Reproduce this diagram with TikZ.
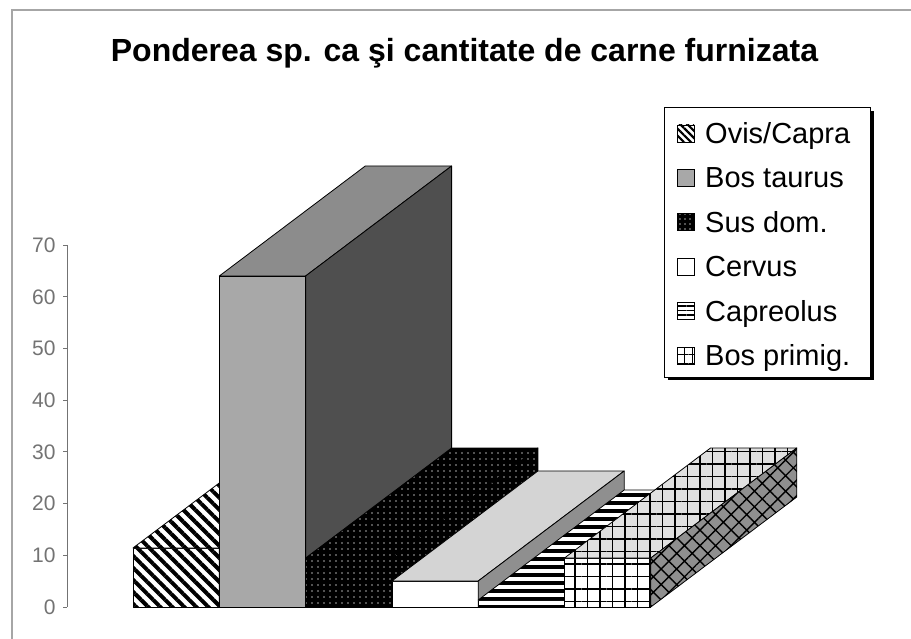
\documentclass[tikz,border=0pt]{standalone}
\usepackage{fontspec}
\setmainfont{Liberation Sans}
\usepackage{tikz}
\usetikzlibrary{patterns.meta}

\definecolor{bosfront}{gray}{0.66}
\definecolor{bostop}{gray}{0.55}
\definecolor{bosside}{gray}{0.31}
\definecolor{cervtop}{gray}{0.83}
\definecolor{midside}{gray}{0.56}
\definecolor{primtop}{gray}{0.88}
\definecolor{axisgray}{gray}{0.45}

\tikzset{
  face/.style={draw=black, line width=0.8pt, line join=round},
  ovisface/.style={face, preaction={fill=white}, pattern={Lines[angle=-45,distance=8.5pt,line width=4pt]}},
  bosfront/.style={face, fill=bosfront},
  bostop/.style={face, fill=bostop},
  bosside/.style={face, fill=bosside},
  susface/.style={face, preaction={fill=black}, pattern={Dots[distance=6pt,radius=0.8pt]}, pattern color=gray!70},
  cervfront/.style={face, fill=white},
  cervtop/.style={face, fill=cervtop},
  cervside/.style={face, fill=midside},
  caprface/.style={face, preaction={fill=white}, pattern={Lines[angle=0,distance=8pt,line width=3.5pt]}},
  primfront/.style={face, preaction={fill=white}, pattern={Hatch[angle=0,distance=12.5pt,line width=1.4pt]}},
  primtop/.style={face, preaction={fill=primtop}, pattern={Hatch[angle=0,distance=12.5pt,line width=1.4pt]}},
  primside/.style={face, preaction={fill=midside}, pattern={Hatch[angle=45,distance=11pt,line width=1.4pt]}},
  % legend keys
  legmark/.style={draw=black, line width=0.6pt, minimum size=17pt, inner sep=0pt},
  ovismark/.style={legmark, preaction={fill=white}, pattern={Lines[angle=-45,distance=5pt,line width=2.2pt]}},
  bosmark/.style={legmark, fill=bosfront},
  susmark/.style={legmark, preaction={fill=black}, pattern={Dots[distance=5pt,radius=0.8pt]}, pattern color=gray!70},
  cervmark/.style={legmark, fill=white},
  caprmark/.style={legmark, preaction={fill=white}, pattern={Lines[angle=0,distance=4.5pt,line width=1.6pt]}},
  primmark/.style={legmark, preaction={fill=white}, pattern={Hatch[angle=0,distance=8.5pt,xshift=4pt,yshift=4pt,line width=0.9pt]}},
  legtext/.style={anchor=base west, inner sep=0pt, font=\fontsize{29}{30}\selectfont},
  ticklabel/.style={anchor=east, inner sep=0pt, xshift=-7pt, text=axisgray, font=\fontsize{21}{22}\selectfont}
}

% #1 left x, #2 height (px), #3 front, #4 top, #5 side
\newcommand{\drawbox}[5]{%
  \path[#3] (#1,607) rectangle ++(86.3,-#2);
  \path[#4] (#1,607-#2) -- ++(86.3,0) -- ++(146,-110) -- ++(-86.3,0) -- cycle;
  \path[#5] (#1+86.3,607) -- ++(0,-#2) -- ++(146,-110) -- ++(0,#2) -- cycle;
}

\begin{document}
\begin{tikzpicture}[x=1pt, y=-1pt]
    \useasboundingbox (0,0) rectangle (911,639);
    \draw[gray!70, line width=1.5pt] (12,639) -- (12,10) -- (911,10);

    \node[anchor=base, inner sep=0pt, font=\fontsize{32}{34}\selectfont\bfseries] (title) at (464.5,62)
        {Ponderea sp. ca şi cantitate de carne furnizata};

    % value axis
    \draw[axisgray, line width=1pt] (67,245) -- (67,607);
    \foreach \v in {0,10,...,70}
        \draw[axisgray, line width=1pt] (67,607-5.17*\v) -- ++(-4,0) node[ticklabel] (tick\v) {\v};

    % columns, left to right
    \drawbox{133}{59}{ovisface}{ovisface}{ovisface}
    \drawbox{219.3}{331}{bosfront}{bostop}{bosside}
    \drawbox{305.6}{49}{susface}{susface}{susface}
    \drawbox{391.9}{26}{cervfront}{cervtop}{cervside}
    \drawbox{478.2}{7}{caprface}{caprface}{caprface}
    \drawbox{564.5}{49}{primfront}{primtop}{primside}

    % legend
    \fill (668,111) rectangle (874,380);
    \node[draw=black, fill=white, line width=0.8pt, anchor=north west, inner sep=0pt,
          minimum width=206pt, minimum height=270pt] (legend) at (664,107) {};
    \foreach \name/\txt [count=\i from 0] in {ovis/{Ovis/Capra}, bos/{Bos taurus}, sus/{Sus dom.},
        cerv/Cervus, capr/Capreolus, prim/{Bos primig.}} {
        \node[\name mark] (m\name) at (685.5,133.5+44.4*\i) {};
        \node[legtext] (t\name) at (705,143.5+44.4*\i) {\txt};
    }
\end{tikzpicture}
\end{document}
